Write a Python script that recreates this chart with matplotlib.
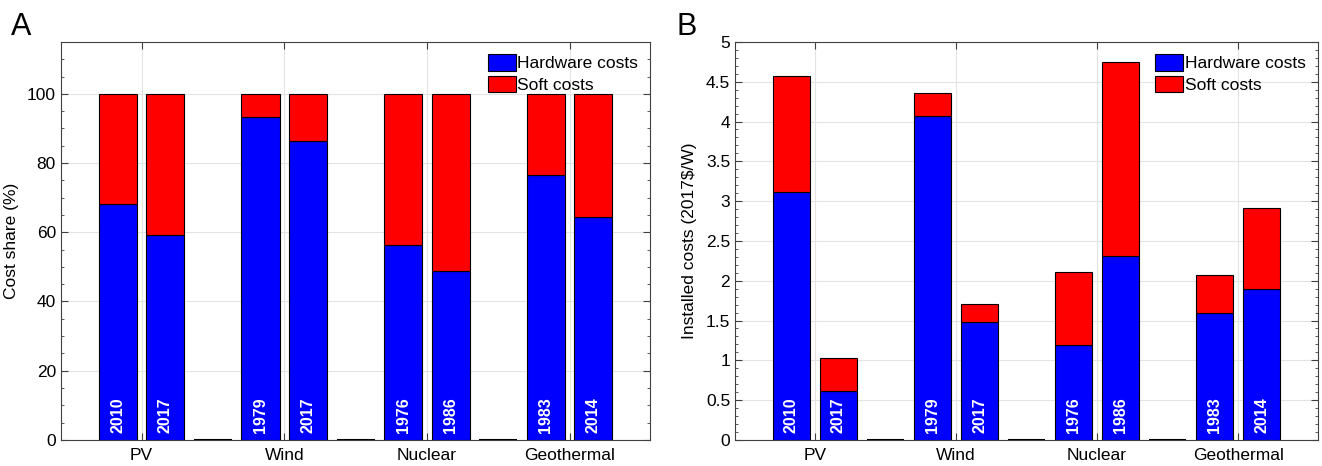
import numpy as np
import matplotlib.pyplot as plt
from matplotlib.ticker import MultipleLocator

plt.rcParams['font.family'] = ['Liberation Sans', 'DejaVu Sans']

techs = ["PV", "Wind", "Nuclear", "Geothermal"]
years = [["2010", "2017"], ["1979", "2017"], ["1976", "1986"], ["1983", "2014"]]

# panel A: hardware share (%)
share_hw = [[68.3, 59.2], [93.3, 86.5], [56.3, 48.9], [76.6, 64.4]]
# panel B: installed costs (2017$/W)
cost_hw = [[3.11, 0.61], [4.07, 1.48], [1.19, 2.31], [1.59, 1.89]]
cost_total = [[4.57, 1.03], [4.36, 1.71], [2.11, 4.75], [2.07, 2.91]]

blue = "#0000ff"
red = "#ff0000"


def draw(ax, hw, soft, ylim, yticks, yminor, ylabel):
    pos, h, s, labs = [], [], [], []
    for i in range(len(techs)):
        base = 1 + 3 * i
        for j in range(2):
            pos.append(base + j)
            h.append(hw[i][j])
            s.append(soft[i][j])
            labs.append(years[i][j])
    # empty slots between technologies
    gaps = [3 + 3 * i for i in range(len(techs) - 1)]
    ax.bar(gaps, [0] * len(gaps), width=0.8, color=blue, edgecolor="black", linewidth=1.5, zorder=3)
    ax.bar(pos, h, width=0.8, color=blue, edgecolor="black", linewidth=0.8, zorder=3, label="Hardware costs")
    ax.bar(pos, s, bottom=h, width=0.8, color=red, edgecolor="black", linewidth=0.8, zorder=3, label="Soft costs")
    for p, lab in zip(pos, labs):
        ax.text(p, ylim[1] * 0.018, lab, rotation=90, ha="center", va="bottom",
                color="white", fontsize=11.5, fontweight="bold", zorder=4)
    ax.set_xlim(-0.2, 12.2)
    ax.set_ylim(*ylim)
    ax.set_xticks([1.5 + 3 * i for i in range(len(techs))])
    ax.set_xticklabels(techs, fontsize=12.5)
    ax.set_yticks(yticks)
    ax.yaxis.set_minor_locator(MultipleLocator(yminor))
    ax.tick_params(axis="both", which="both", direction="in", top=True, right=True,
                   labelsize=12.5, color="#404040")
    ax.tick_params(axis="x", which="both", length=5, pad=6)
    ax.tick_params(axis="y", which="major", length=5)
    ax.tick_params(axis="y", which="minor", length=2.5)
    ax.grid(True, which="major", color="#e3e3e3", linewidth=0.8, zorder=0)
    ax.set_axisbelow(True)
    for sp in ax.spines.values():
        sp.set_color("#404040")
        sp.set_linewidth(0.8)
    ax.set_ylabel(ylabel, fontsize=12.5, labelpad=6)
    ax.legend(loc="upper right", frameon=False, fontsize=12.5, handlelength=1.6, handleheight=1.1,
              handletextpad=0.1, labelspacing=0.25, borderaxespad=0.3)


fig = plt.figure(figsize=(13.22, 4.66), dpi=100)
axA = fig.add_axes([0.046, 0.056, 0.446, 0.854])
axB = fig.add_axes([0.556, 0.056, 0.441, 0.854])

soft_share = [[100 - v for v in row] for row in share_hw]
draw(axA, share_hw, soft_share, (0, 115), np.arange(0, 101, 20), 5, "Cost share (%)")

soft_cost = [[t - h for t, h in zip(tr, hr)] for tr, hr in zip(cost_total, cost_hw)]
draw(axB, cost_hw, soft_cost, (0, 5), np.arange(0, 5.01, 0.5), 0.1, "Installed costs (2017\\$/W)")
axB.set_yticklabels(["0", "0.5", "1", "1.5", "2", "2.5", "3", "3.5", "4", "4.5", "5"])

fig.text(0.008, 0.925, "A", fontsize=22)
fig.text(0.512, 0.925, "B", fontsize=22)

fig.savefig("out.png", dpi=100)
